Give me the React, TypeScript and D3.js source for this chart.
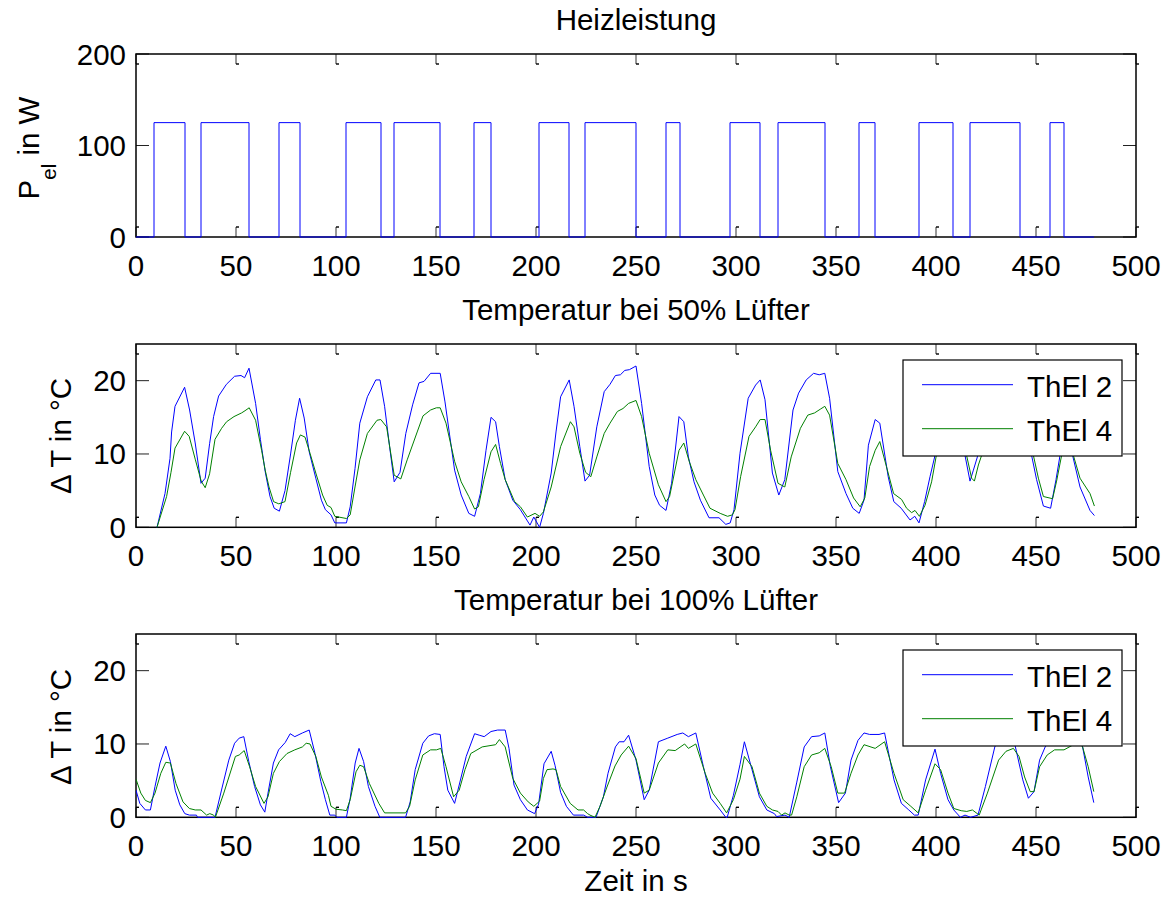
import React from "react";
import * as d3 from "d3";

// ---------- DATA ----------
const xTicks = [0, 50, 100, 150, 200, 250, 300, 350, 400, 450, 500];
const powerTicks = [0, 100, 200];
const tempTicks = [0, 10, 20];

const heatOnTimes = [9, 32.5, 71.5, 105, 129, 169, 201.5, 224.5, 265, 297, 321, 361.5, 391.5, 417, 457];
const heatOffTimes = [24.5, 56.5, 82, 122.5, 152, 177.5, 216.5, 250, 272, 312, 344.5, 369.5, 408.5, 442, 464];
const heatPower = 125;
const heatEnd = 479;

const thel2Fan50: [number, number][] = [[10.5,0],[14.5,4.6],[17,9.4],[17.8,13],[19.5,16.5],[24.3,19.1],[26.8,16],[29.6,11.5],[32.5,6],[34.6,6.7],[36.8,11.4],[38.8,15.1],[41.3,17.9],[45.2,19.5],[49.3,20.6],[52.5,20.7],[54.3,20.4],[56.5,21.7],[59.8,16.9],[62.2,12],[64.6,7.6],[67,4.2],[69.1,2.6],[71.7,2.2],[74.5,5],[77.3,10],[79.7,14.6],[81.8,17.6],[84.1,14.9],[86.6,10.3],[89.9,6.7],[92.7,3.7],[94.7,2.4],[97.5,1.7],[99.4,0.6],[105.2,0.6],[107.1,2.8],[109.5,8],[111.9,14.2],[115.7,17.8],[119.9,20.1],[122,20.1],[124.3,16.5],[126.8,11],[129.1,6.2],[132,7.5],[134.9,12.8],[138.3,16.7],[141.5,19.7],[144,19.9],[147.3,21],[152.1,21],[154.5,17.1],[156.8,12.6],[159.3,7.8],[162.6,4.4],[166.4,1.9],[169.3,1.5],[172.2,4.6],[175,10.5],[177.5,15],[179.8,14.4],[181.7,11],[184.6,6.5],[188.4,3.7],[192.2,2.4],[197,0.3],[198.9,1.4],[201.8,0],[203.7,1.9],[207.6,7.4],[210,13],[212.3,17.8],[216.6,20.1],[219,16.5],[221.9,11],[224.5,6.3],[226.8,7.1],[230.4,13.7],[234.1,18.5],[237,19.5],[239.7,20.7],[242.2,20.8],[244.4,21.4],[246.7,21.5],[250,22],[252.8,16.9],[256.6,8.3],[259.4,4.4],[261.8,3],[265,2.3],[267.8,6],[271.5,15.1],[273.9,14.4],[276.2,9.6],[279,6.2],[282.2,3.7],[286.5,1.3],[291.5,1.3],[294.9,0.4],[297.1,0.6],[299,2.4],[302,10.1],[306.1,17.6],[309.8,19.4],[312.1,20.1],[314.5,17.4],[318.2,7.4],[321.4,4.4],[324.4,6.5],[328.5,16],[331.3,18.3],[335.1,20.1],[338.8,21],[341.6,20.8],[344.4,21],[346.8,17.6],[350.9,7.6],[355,4.6],[358.4,2.6],[361.6,1.9],[364,3.7],[366.2,11.2],[369.6,14.7],[371.9,14.2],[376.1,6.9],[378.9,3.5],[382.6,2.6],[387,1],[389.4,1.5],[391.5,0.6],[394.3,3.5],[397,6.9],[399.5,9.8],[402,13.5],[405,17],[409,19.5],[411,16],[414.5,9.8],[417,6.3],[418.7,7.8],[420.8,9.7],[424,14],[428,17.5],[432,19.5],[436,20.5],[440,21],[442,21.3],[444,17.5],[447.8,9.8],[450.3,6.5],[453.7,2.9],[457.3,2.6],[460,6.5],[462,9.8],[464.5,14.5],[466,13.5],[468.3,9.8],[472,5.5],[477,2.3],[479.2,1.6]];

const thel4Fan50: [number, number][] = [[10.5,0],[15.3,4.2],[17.5,7.5],[19.5,10.8],[24.3,13.1],[26.6,12.4],[29.6,9.3],[32.6,6.3],[34.6,5.4],[36.8,7.3],[39.5,12],[42.8,13.5],[45.3,14.4],[49,15.1],[52.8,15.6],[54.5,15.9],[56.6,16.3],[59.8,14.6],[62.8,10.5],[64.6,7.8],[66.5,5.5],[68.8,3.5],[71.4,3.2],[74.5,3.5],[77.3,7.5],[80.3,11.5],[82.2,12.6],[84.5,12.3],[87,10.1],[89.9,7.4],[93.3,4.4],[95.6,3],[97.5,2.7],[99.4,1.5],[105.2,1.2],[107.1,1.7],[109.5,5.5],[111.9,9.2],[115.7,12.8],[120.5,14.6],[122.4,14.7],[125.3,13.7],[129.1,7.1],[132.4,6.6],[135.6,9.2],[140.6,13],[143.5,15.2],[147.3,16],[150.2,16.3],[152.1,16.3],[155,14.2],[159.3,9],[162.6,6.2],[166.4,4.2],[169.3,2.5],[171.2,2.8],[174,6.5],[177.5,10.3],[179.8,11.3],[182.3,8.7],[184.6,6.5],[189.3,3.5],[192.2,2.8],[195.7,1.4],[199.5,1.9],[201.8,1.5],[203.7,2.1],[207.6,5.5],[212.3,11],[217.2,14.4],[219,13.7],[221.9,10.1],[224.8,7.5],[227.4,6.9],[230.4,9.6],[234.1,12.8],[237,14.2],[240.7,15.8],[243.5,16.2],[246.3,16.9],[250,17.3],[252.8,15.1],[256.6,10.1],[261.2,5.8],[265,3.5],[266.8,4.2],[271.5,10.5],[273.9,11.5],[276.6,9],[279.9,6.5],[283.7,4.4],[287,2.6],[292.1,1.9],[295.8,1.5],[298.2,1.7],[299.5,2.4],[302.3,6.9],[306.5,12.4],[309.8,13.7],[312.1,14.7],[314.5,14.7],[317.3,10.5],[321,6],[324.4,5.5],[327.6,9.6],[332.2,13.5],[335.9,15.3],[339.3,15.6],[342.1,16.1],[344.4,16.5],[346.8,15.3],[350.9,8.7],[355,6.5],[358.8,4],[362.1,2.8],[364.4,4],[366.8,8.3],[369.6,10.5],[371.9,11.7],[375.2,8.3],[378.8,4.6],[382.8,3.8],[385.3,2.6],[387.8,2],[389.5,2.3],[391.7,1.5],[394.5,3],[397.8,6.2],[400.3,10],[403,12.5],[406,14],[409,15],[412,12],[415.3,9.8],[417.8,6.7],[419.2,6.3],[421.2,8.5],[422.8,9.8],[426,12],[430,14],[434,15],[438,16],[442,16.5],[445,14],[448.7,9.8],[451.2,6.7],[453.7,4.2],[458.3,3.9],[460.3,6.3],[462.8,9.8],[465,11],[466.5,10.8],[468.7,9.8],[472,6.7],[477,4.6],[479.2,2.9]];

const thel2Fan100: [number, number][] = [[0,3.7],[1.9,1.9],[4.7,1],[7.2,1],[9.5,4.2],[12,7.4],[14.9,9.7],[17.2,7.6],[19.6,3.7],[21.9,1.7],[24.4,0.5],[26.7,0.3],[30.2,0.3],[30.8,0],[39.5,0],[43,4],[46.4,7.8],[49.3,10.1],[51.6,10.8],[53.9,11],[56.4,7.6],[59.3,4.2],[62.2,1.7],[64.4,0.7],[66,3.3],[68.7,7.4],[71.3,9.2],[74.6,10.2],[77.1,11.4],[79.4,11],[83.2,11.5],[86.6,11.9],[89.5,8.7],[92.4,4.9],[94.7,2.4],[96.9,0.3],[99.4,0.3],[100.4,0],[105.2,0],[107.1,2.6],[109.6,7.4],[111.5,9.4],[113.8,7.6],[116.2,4.2],[119.5,1.5],[121.9,0],[134.8,0],[137.1,2.1],[139.6,6.5],[143.4,10.1],[146.3,11.1],[149.2,11.4],[152.1,11.3],[154,6.9],[155.9,3.7],[159.3,1.9],[161.6,4.4],[165.1,8.3],[169.3,11.4],[171.6,11.2],[174.1,11],[177.5,11.7],[180.8,11.9],[184.6,11.9],[186.5,9.4],[189,4.4],[192.2,2.4],[195.7,1],[199.3,0.5],[201.3,1.8],[204,7.3],[207.6,9],[209.5,7.1],[212.3,3.4],[215.2,1.5],[218.7,0.3],[223.8,0.3],[225.8,0],[230,0],[233.7,2.8],[236,6],[239.7,9.6],[241.6,10.3],[244,10.3],[246.3,11.2],[250,7.8],[254.1,2.4],[256.6,3.7],[261.2,10.3],[265.9,10.8],[270.6,11.3],[273.4,11.5],[276.2,11],[279.9,11.5],[283.7,6.9],[287.4,2.6],[292.1,1],[294.9,0],[295.6,0],[298.7,3],[302,7.2],[304.2,10.3],[308,6.5],[311.7,2.8],[315.4,1],[319.2,0.5],[320.3,0.1],[324.5,0.3],[326.6,0],[330.4,4.8],[334.1,9.6],[337.8,11],[341.6,11.1],[344.4,11.5],[347.2,6.9],[351.3,2],[354.7,3.3],[357.5,7.8],[361,10.5],[364,11.5],[366.8,11.3],[371.5,11.3],[374.3,11.5],[379,5.1],[382.7,1.9],[386.4,1],[389.2,0.3],[391.1,0.3],[394.8,5.1],[399.5,9.3],[402.3,6],[406,2.4],[408.9,1],[412.2,0],[414.5,0.3],[417.3,0],[421,0.3],[424.7,4.2],[429.4,9.6],[432,10.8],[435,11.1],[437.5,11.5],[439.7,9.6],[443.4,5.1],[446.2,2.6],[449,3.5],[451.8,7.8],[454.6,9.6],[458,10.6],[462,10.8],[466,11.2],[470,11.5],[471.8,11.6],[473.3,9.6],[476.1,5.5],[478.9,2]];

const thel4Fan100: [number, number][] = [[0,5.2],[2.4,3.3],[4.7,2.3],[7.2,2],[9.5,3.3],[12.4,6],[14.9,7.5],[17.2,7.4],[20,4.6],[23.5,2.1],[26.7,1.2],[29.6,1],[32.5,1],[35.3,0.3],[36.9,0.5],[38.8,0.3],[39.7,0],[43.9,3.3],[49.7,8.3],[51.6,8.5],[54.1,9.1],[56.8,6.9],[59.8,4.2],[64,1.9],[66,2.8],[68.7,6],[71.7,7.6],[75.5,8.7],[79.4,9.2],[83.2,9.6],[85.1,10.1],[87,10],[89.9,8.3],[92.7,5.5],[96.2,3],[97.5,1.5],[100,1.1],[103.2,1],[105.2,0.9],[107.1,2.4],[110,6.2],[111.9,7.1],[113.8,6.9],[116.7,4.6],[121.4,1.9],[124.3,0.6],[134.8,0.6],[136.8,1.5],[139.6,5.1],[143.4,8.5],[147.3,9.2],[150.2,9.2],[152.4,9.4],[155,6.9],[158.8,2.8],[161.6,3.7],[164.5,6.5],[167.4,8.7],[173.1,9.6],[177.5,9.8],[179.8,9.9],[181.7,10.6],[184.6,9.6],[188.4,5.3],[192.2,3.3],[196.1,2.1],[198.9,1.5],[201.8,2.2],[203.7,5.3],[205.5,6.5],[208.5,6.6],[210,6.5],[212.3,4.2],[217.1,1.9],[221,1],[223.8,1],[225.8,0.5],[227,0.3],[229.5,0],[232,1.5],[235.3,4],[239.5,7],[242.6,8.5],[246.3,9.7],[250,8],[254.1,3.3],[256.6,3.7],[261.2,7.4],[265.9,9.2],[269.6,9.1],[274.3,10],[276.2,9.4],[279.9,10],[284.6,6],[288.3,3.3],[292.1,1.9],[295.3,0.6],[298.7,2.4],[302,5.2],[304.2,8.3],[308,6.9],[311.7,3.3],[315.4,1.5],[318.2,1],[321,0.8],[322.8,0.3],[324.5,0.6],[326.6,0.3],[327.8,0.3],[330.4,2.8],[334.1,6.9],[337.8,8.5],[341.6,8.8],[344.4,9.4],[347.6,6.9],[350.9,3.3],[354.3,3.3],[357.5,6],[361,8.5],[364,9.9],[369.6,9.4],[374.3,10.3],[379,6],[383.6,2.4],[387.4,1.5],[391.1,0.6],[394.8,3.7],[399.5,7.3],[402.3,6.5],[406,3.3],[408.9,1.2],[412.6,0.9],[415.4,0.8],[418.2,1],[421.6,0.3],[425.7,3.3],[431.3,7.8],[435,9],[438.7,9.4],[441.5,8.3],[444.3,5.5],[447.1,3.5],[449,3.5],[451.8,6.9],[455.6,8.5],[459.3,9.2],[464,9.2],[468.7,9.9],[470.8,10.3],[473.3,9.6],[476.1,6.9],[478.9,3.5]];

const seriesNames = ["ThEl 2", "ThEl 4"];
const titles = ["Heizleistung", "Temperatur bei 50% Lüfter", "Temperatur bei 100% Lüfter"];

// ---------- LAYOUT ----------
const W = 1166, H = 899;
const FONT = "'Liberation Sans', Arial, Helvetica, sans-serif";
const FS = 29.5;
const X0 = 136, X1 = 1136;
const BLUE = "#0000ff", GREEN = "#008000";

const x = d3.scaleLinear().domain([0, 500]).range([X0, X1]);

type Panel = { top: number; bottom: number; domain: [number, number]; ticks: number[] };
const panels: Panel[] = [
  { top: 54, bottom: 237, domain: [0, 200], ticks: powerTicks },
  { top: 344, bottom: 527.3, domain: [0, 25], ticks: tempTicks },
  { top: 634, bottom: 817.3, domain: [0, 25], ticks: tempTicks },
];

function heatPoints(): [number, number][] {
  const pts: [number, number][] = [[0, 0]];
  heatOnTimes.forEach((on, i) => {
    pts.push([on, 0], [on, heatPower], [heatOffTimes[i], heatPower], [heatOffTimes[i], 0]);
  });
  pts.push([heatEnd, 0]);
  return pts;
}

function Axes({ p, idx }: { p: Panel; idx: number }) {
  const y = d3.scaleLinear().domain(p.domain).range([p.bottom, p.top]);
  const tl = 10;
  return (
    <g>
      {xTicks.map((t) => (
        <g key={"xt" + t}>
          <line x1={x(t)} x2={x(t)} y1={p.bottom} y2={p.bottom - tl} stroke="#333" strokeWidth={1} />
          <line x1={x(t)} x2={x(t) + 3} y1={p.bottom - tl} y2={p.bottom - tl} stroke="#000" strokeWidth={1.4} />
          <line x1={x(t)} x2={x(t)} y1={p.top} y2={p.top + tl} stroke="#333" strokeWidth={1} />
          <line x1={x(t)} x2={x(t) + 3} y1={p.top + tl} y2={p.top + tl} stroke="#000" strokeWidth={1.4} />
          <text x={x(t)} y={p.bottom + 38.5} textAnchor="middle" fontSize={FS} fontFamily={FONT} fill="#000">{t}</text>
        </g>
      ))}
      {p.ticks.map((t) => (
        <g key={"yt" + t}>
          <line x1={X0} x2={X0 + 13} y1={y(t)} y2={y(t)} stroke="#222" strokeWidth={1} />
          <line x1={X1} x2={X1 - 13} y1={y(t)} y2={y(t)} stroke="#222" strokeWidth={1} />
          <text x={X0 - 10} y={y(t) + 10.5} textAnchor="end" fontSize={FS} fontFamily={FONT} fill="#000">{t}</text>
        </g>
      ))}
      <rect x={X0} y={p.top} width={X1 - X0} height={p.bottom - p.top} fill="none" stroke="#000" strokeWidth={1.5} />
      <text x={(X0 + X1) / 2} y={p.top - 24.5} textAnchor="middle" fontSize={FS} fontFamily={FONT} fill="#000">{titles[idx]}</text>
    </g>
  );
}

function Legend({ top }: { top: number }) {
  const lx = 903, lw = 219, lh = 96;
  const rows = [top + 24.7, top + 68.7];
  const cols = [BLUE, GREEN];
  return (
    <g>
      <rect x={lx} y={top} width={lw} height={lh} fill="#fff" stroke="#000" strokeWidth={1.2} />
      {rows.map((ry, i) => (
        <g key={i}>
          <line x1={922} x2={1013} y1={ry} y2={ry} stroke={cols[i]} strokeWidth={1} />
          <text x={1027} y={ry + 12} fontSize={FS} fontFamily={FONT} fill="#000">{seriesNames[i]}</text>
        </g>
      ))}
    </g>
  );
}

export default function App() {
  const line = (p: Panel) => {
    const y = d3.scaleLinear().domain(p.domain).range([p.bottom, p.top]);
    return d3.line<[number, number]>().x((d) => x(d[0])).y((d) => y(d[1]));
  };
  const l0 = line(panels[0]);
  const l1 = line(panels[1]);
  const l2 = line(panels[2]);
  return (
    <svg width={W} height={H} viewBox={`0 0 ${W} ${H}`} style={{ position: "absolute", left: 0, top: 0, background: "#fff" }}>
      <rect width={W} height={H} fill="#fff" />
      <defs>
        {panels.map((p, i) => (
          <clipPath id={"clip" + i} key={i}>
            <rect x={X0} y={p.top - 1} width={X1 - X0} height={p.bottom - p.top + 2} />
          </clipPath>
        ))}
      </defs>
      {panels.map((p, i) => <Axes key={i} p={p} idx={i} />)}
      <g clipPath="url(#clip0)">
        <path d={l0(heatPoints()) || ""} fill="none" stroke={BLUE} strokeWidth={1} />
      </g>
      <g clipPath="url(#clip1)">
        <path d={l1(thel2Fan50) || ""} fill="none" stroke={BLUE} strokeWidth={1} />
        <path d={l1(thel4Fan50) || ""} fill="none" stroke={GREEN} strokeWidth={1} />
      </g>
      <g clipPath="url(#clip2)">
        <path d={l2(thel2Fan100) || ""} fill="none" stroke={BLUE} strokeWidth={1} />
        <path d={l2(thel4Fan100) || ""} fill="none" stroke={GREEN} strokeWidth={1} />
      </g>
      <Legend top={360} />
      <Legend top={650} />
      <text transform="translate(38.5,148) rotate(-90)" textAnchor="middle" fontSize={FS} fontFamily={FONT} fill="#000">
        P<tspan fontSize={20.5} dy={17}>el</tspan><tspan dy={-17}> in W</tspan>
      </text>
      <text transform="translate(71,436) rotate(-90)" textAnchor="middle" fontSize={FS} fontFamily={FONT} fill="#000">Δ T in °C</text>
      <text transform="translate(71,727) rotate(-90)" textAnchor="middle" fontSize={FS} fontFamily={FONT} fill="#000">Δ T in °C</text>
      <text x={(X0 + X1) / 2} y={891} textAnchor="middle" fontSize={FS} fontFamily={FONT} fill="#000">Zeit in s</text>
    </svg>
  );
}
